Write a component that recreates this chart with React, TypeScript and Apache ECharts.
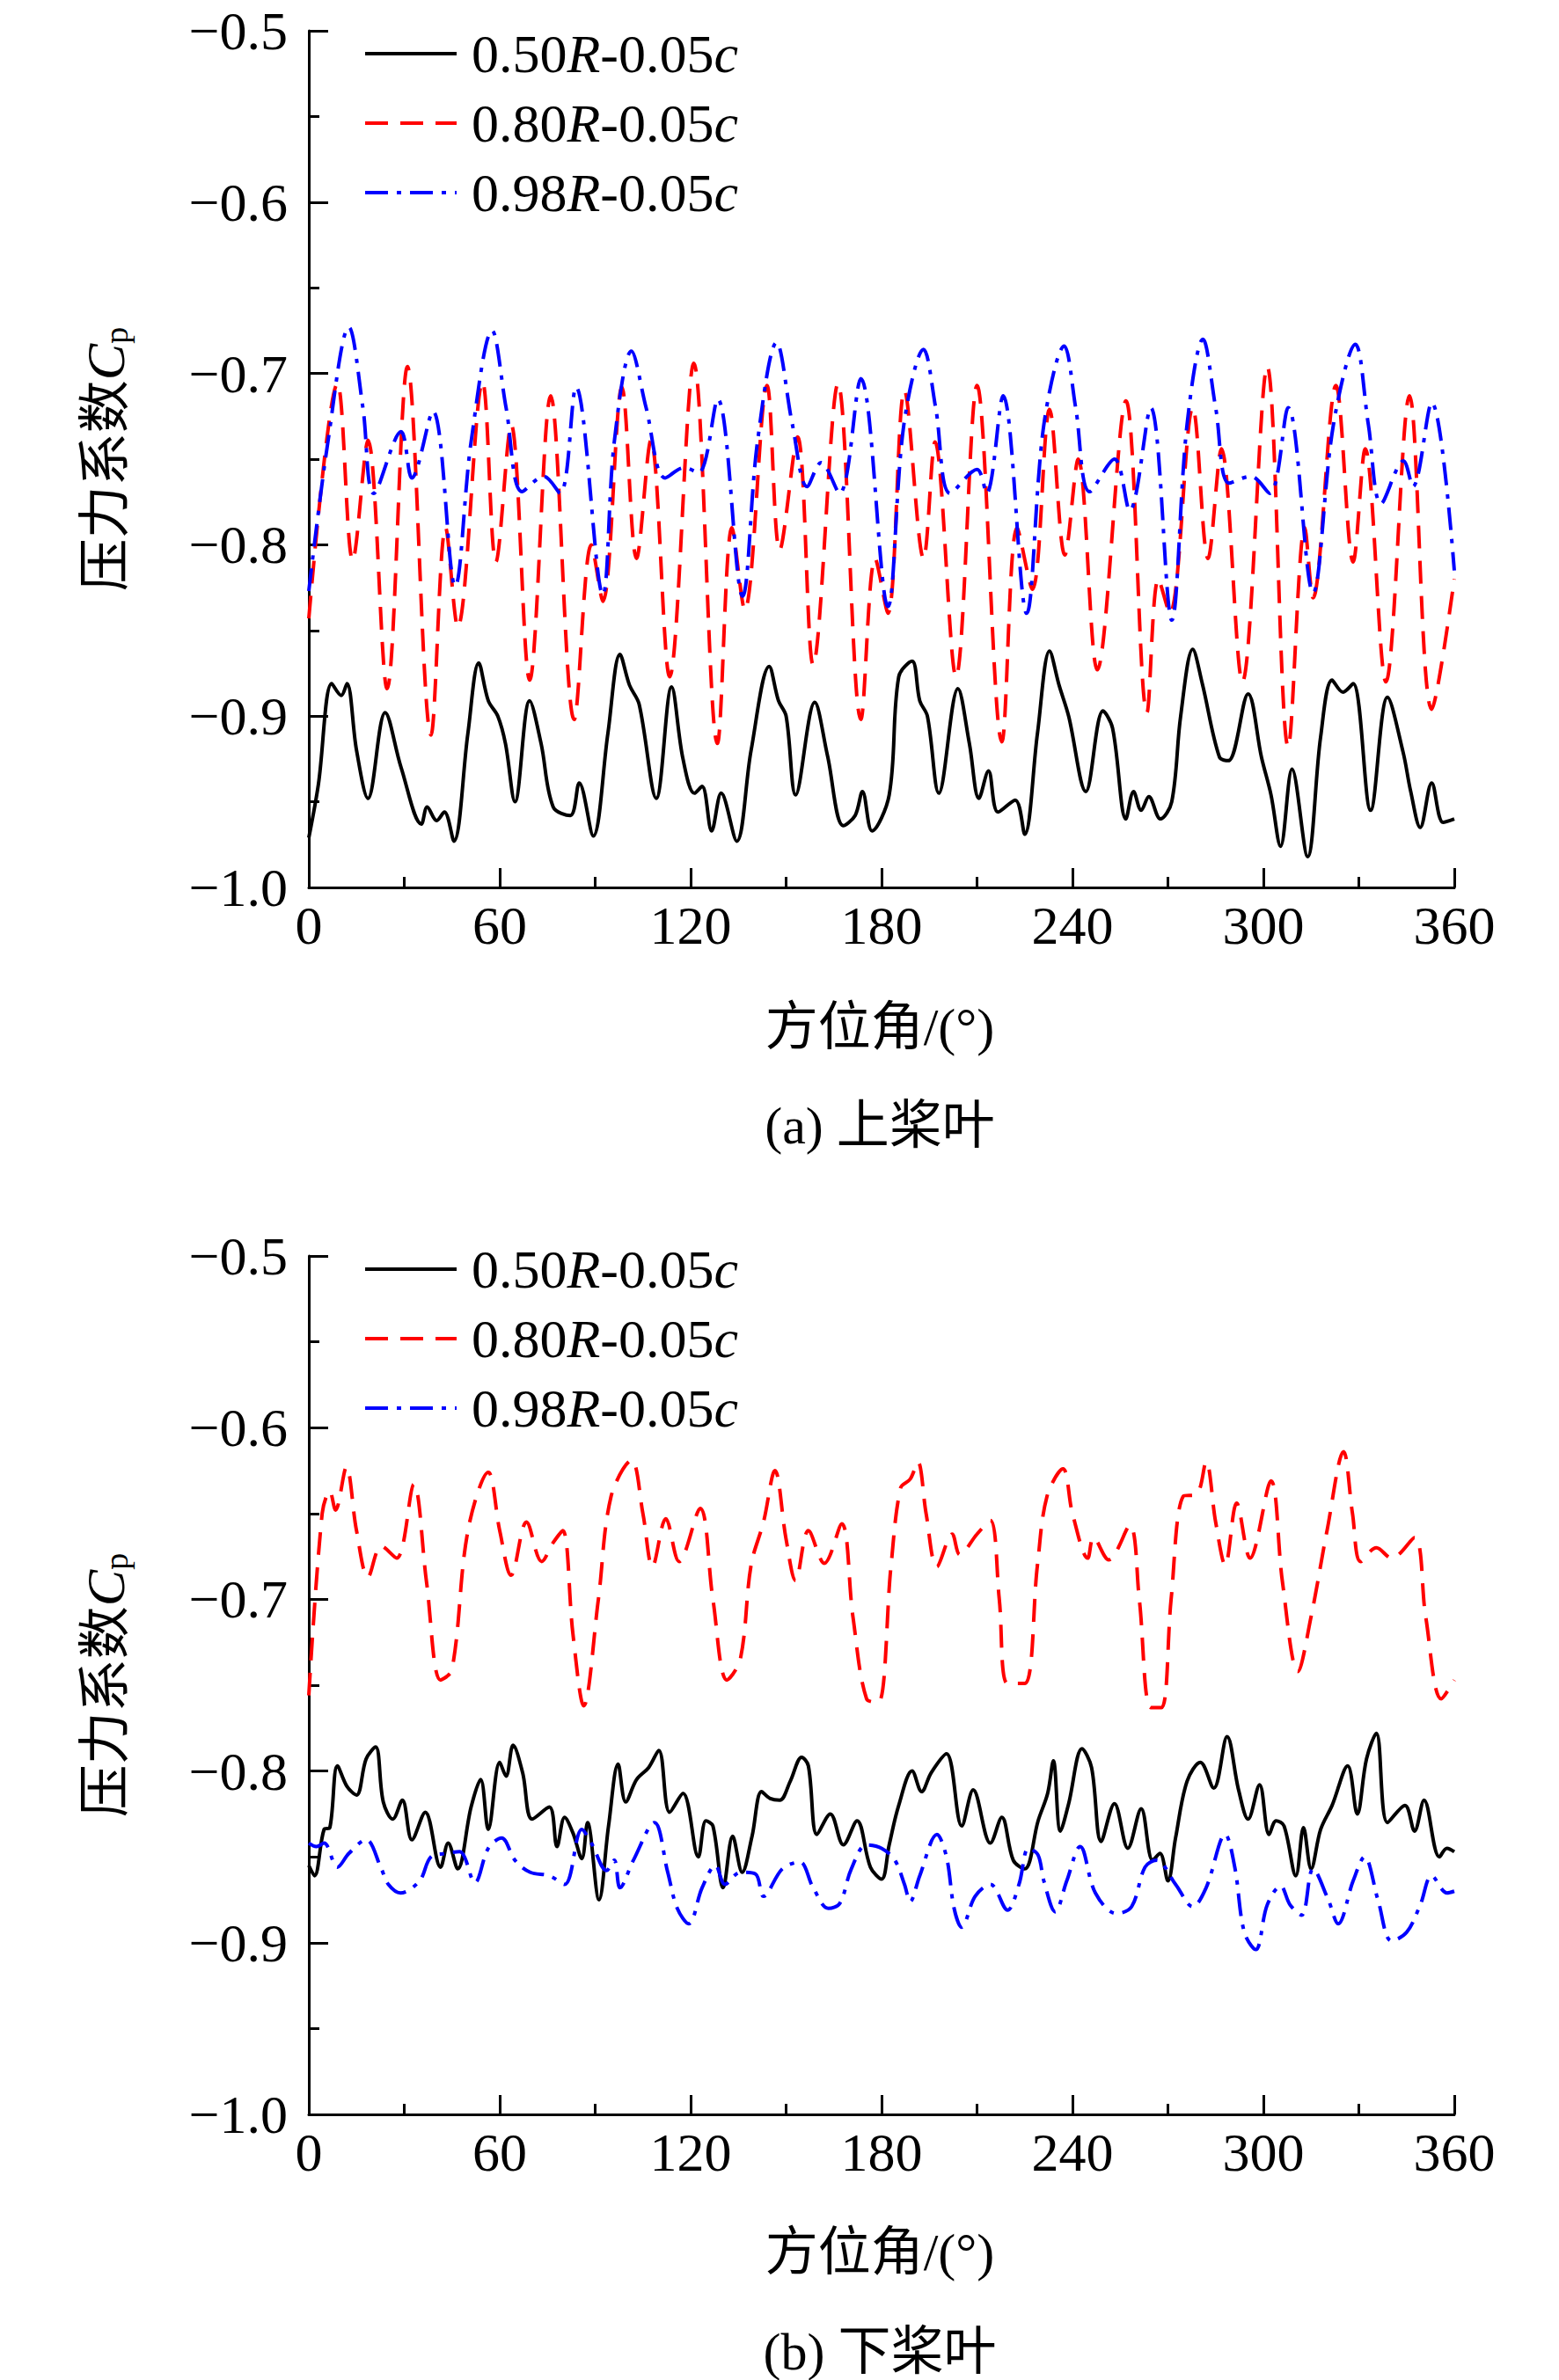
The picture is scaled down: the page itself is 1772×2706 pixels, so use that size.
import React, { useEffect, useRef } from 'react';
import * as echarts from 'echarts';

// 上桨叶 (a)
const upper050: number[][] = [
  [0, -0.971], [3, -0.94], [7.2, -0.881], [10.2, -0.888], [12, -0.881], [15, -0.92], [18.6, -0.948], [24, -0.898],
  [29, -0.93], [35.4, -0.963], [37.2, -0.953], [40.2, -0.961], [42.6, -0.956], [45.6, -0.973], [50, -0.91], [53.4, -0.869],
  [56.4, -0.891], [59.4, -0.9], [61.8, -0.916], [64.8, -0.95], [69.4, -0.891], [73, -0.916], [76.8, -0.953],
  [82.2, -0.958], [85, -0.939], [89.4, -0.97], [94, -0.91], [97.8, -0.864], [100.8, -0.882], [103.8, -0.893],
  [109.2, -0.948], [114, -0.883], [117.6, -0.925], [121.2, -0.945], [123.6, -0.941], [126.6, -0.967], [129.6, -0.945],
  [134.5, -0.973], [139, -0.92], [144.7, -0.871], [147.6, -0.891], [150, -0.9], [153, -0.946], [159, -0.892],
  [163, -0.923], [168, -0.964], [171.7, -0.958], [174, -0.944], [177, -0.967], [182.4, -0.946], [185.4, -0.877],
  [189.6, -0.868], [192, -0.891], [194.4, -0.9], [198, -0.945], [204, -0.884], [207.6, -0.916], [210.6, -0.948],
  [213.6, -0.932], [216.6, -0.956], [222, -0.949], [225, -0.969], [229, -0.91], [232.8, -0.862], [235.8, -0.882],
  [238.8, -0.9], [244.2, -0.944], [249.6, -0.897], [252.6, -0.907], [256.8, -0.96], [259.2, -0.944], [261.6, -0.955],
  [264, -0.947], [267.6, -0.96], [271.2, -0.95], [274, -0.9], [277.8, -0.861], [280.8, -0.881], [286.2, -0.924],
  [289, -0.926], [295.2, -0.887], [299.4, -0.924], [302.4, -0.946], [305.4, -0.976], [309, -0.931], [313.9, -0.982],
  [318, -0.912], [321.6, -0.879], [325, -0.886], [328.2, -0.881], [333.7, -0.955], [339, -0.889], [343.9, -0.921],
  [346.3, -0.944], [349.3, -0.965], [352.9, -0.939], [356.5, -0.962], [360, -0.96],
];
const upper080: number[][] = [
  [0, -0.843], [9, -0.706], [13.8, -0.809], [18.6, -0.739], [24.6, -0.884], [31, -0.696], [38.4, -0.911], [43, -0.79],
  [46.8, -0.848], [54.6, -0.705], [58.8, -0.81], [63.6, -0.73], [69.4, -0.879], [76, -0.713], [83.4, -0.902],
  [88.8, -0.8], [92.4, -0.833], [98.4, -0.708], [103, -0.808], [107.5, -0.739], [113.4, -0.877], [121, -0.694],
  [128.4, -0.916], [133, -0.79], [137, -0.838], [144, -0.707], [148, -0.803], [153.6, -0.737], [158.5, -0.87],
  [166.3, -0.706], [173.5, -0.902], [178, -0.808], [182, -0.84], [187.2, -0.71], [193.2, -0.808], [196.8, -0.74],
  [203.4, -0.877], [210, -0.707], [217.8, -0.915], [222.6, -0.79], [227.4, -0.826], [232.8, -0.721], [237.6, -0.806],
  [241.8, -0.75], [247.8, -0.873], [256.8, -0.716], [263.4, -0.898], [267, -0.82], [270.6, -0.84], [277.8, -0.72],
  [282.6, -0.808], [286.8, -0.744], [293.4, -0.88], [301.2, -0.696], [307.8, -0.918], [313, -0.79], [315.6, -0.831],
  [322.8, -0.707], [328.2, -0.81], [332, -0.744], [338.5, -0.88], [345.9, -0.713], [352.9, -0.896], [360, -0.82],
];
const upper098: number[][] = [
  [0, -0.827], [6, -0.74], [12.6, -0.673], [17, -0.72], [20.4, -0.77], [29, -0.734], [32.4, -0.761], [39, -0.722],
  [46, -0.824], [51, -0.74], [57.6, -0.675], [62, -0.72], [67, -0.769], [73.8, -0.76], [79, -0.77], [84, -0.708],
  [92.4, -0.829], [96, -0.74], [101.4, -0.687], [106, -0.72], [112, -0.761], [118, -0.755], [122.5, -0.758],
  [128.5, -0.715], [136.3, -0.83], [141, -0.74], [147, -0.682], [152, -0.73], [156.6, -0.766], [161, -0.752],
  [166.8, -0.77], [173.5, -0.703], [182, -0.836], [187, -0.73], [193.2, -0.686], [197, -0.72], [201.6, -0.77],
  [210, -0.756], [213, -0.77], [218.2, -0.713], [225.6, -0.84], [231, -0.73], [237.4, -0.684], [241, -0.72],
  [245.4, -0.769], [253.2, -0.75], [258, -0.78], [264.6, -0.72], [271.2, -0.844], [276, -0.73], [281, -0.68],
  [285, -0.72], [289.2, -0.764], [296, -0.76], [302, -0.77], [307.8, -0.72], [315.6, -0.828], [322, -0.73],
  [328.9, -0.683], [333, -0.73], [337, -0.776], [344, -0.751], [347, -0.766], [352.9, -0.717], [360, -0.815],
];

// 下桨叶 (b)
const lower050: number[][] = [
  [0, -0.855], [1.8, -0.861], [4.8, -0.834], [6.6, -0.833], [9, -0.797], [12, -0.809], [15, -0.814], [18, -0.793],
  [21, -0.786], [23.4, -0.818], [26.4, -0.828], [29.4, -0.817], [32.4, -0.84], [36.6, -0.824], [41.4, -0.856],
  [43.8, -0.842], [46.8, -0.857], [51, -0.821], [54, -0.805], [56.4, -0.834], [60, -0.795], [62, -0.803], [64.2, -0.785],
  [67.2, -0.801], [70.2, -0.828], [75.6, -0.821], [78, -0.844], [80.4, -0.827], [83, -0.836], [85.8, -0.851],
  [87.6, -0.83], [91.2, -0.875], [94.2, -0.832], [97.2, -0.796], [99.6, -0.818], [103, -0.805], [106.8, -0.798],
  [110, -0.788], [113.4, -0.824], [117.6, -0.813], [122.4, -0.85], [124.8, -0.829], [127, -0.832], [130.2, -0.868],
  [133.2, -0.838], [136.2, -0.859], [139.3, -0.838], [142.3, -0.812], [145, -0.816], [148, -0.817], [151.3, -0.806],
  [154.9, -0.792], [157, -0.797], [159.7, -0.837], [163.9, -0.825], [168, -0.843], [172.3, -0.829], [176.5, -0.856],
  [180, -0.863], [182.4, -0.843], [185.4, -0.82], [189.6, -0.8], [192.6, -0.812], [195.6, -0.801], [200.4, -0.79],
  [205.2, -0.832], [208.8, -0.811], [214.2, -0.842], [217.8, -0.827], [221.4, -0.852], [225, -0.857], [229.2, -0.829],
  [232.2, -0.813], [234, -0.794], [236.2, -0.835], [238.8, -0.819], [243, -0.787], [246, -0.798], [249, -0.841],
  [253.2, -0.819], [257.4, -0.845], [261.6, -0.822], [265.2, -0.852], [267.5, -0.848], [270, -0.864], [272.4, -0.839],
  [276, -0.806], [280.2, -0.795], [284.4, -0.81], [288.6, -0.78], [292.2, -0.811], [295.2, -0.828], [298.8, -0.808],
  [301.8, -0.837], [304, -0.829], [306.5, -0.832], [310.2, -0.861], [312.6, -0.833], [315, -0.857], [318, -0.834],
  [321.6, -0.82], [326.5, -0.797], [329.5, -0.825], [332.4, -0.793], [335.5, -0.778], [339, -0.83], [344.5, -0.82],
  [347.5, -0.835], [350.5, -0.817], [355.3, -0.85], [357.7, -0.845], [360, -0.847],
];
const lower080: number[][] = [
  [0, -0.756], [4.2, -0.65], [6.6, -0.637], [8.4, -0.648], [11.8, -0.623], [15, -0.66], [18.6, -0.687], [22.8, -0.669],
  [27.6, -0.676], [33, -0.633], [37, -0.69], [41.4, -0.747], [45, -0.741], [50, -0.66], [56.4, -0.626], [60, -0.66],
  [63.6, -0.686], [68.4, -0.655], [73.2, -0.678], [76.8, -0.667], [79.8, -0.66], [83, -0.72], [86.4, -0.762],
  [91, -0.7], [95, -0.64], [101.4, -0.619], [105, -0.65], [108, -0.681], [112.2, -0.653], [116.4, -0.678], [123, -0.647],
  [127, -0.7], [131.4, -0.747], [135.6, -0.735], [139, -0.68], [142.9, -0.655], [146.5, -0.625], [150, -0.665],
  [153, -0.689], [157, -0.66], [162, -0.679], [167.5, -0.656], [171, -0.71], [175.3, -0.758], [179, -0.76],
  [183, -0.68], [186, -0.635], [189, -0.63], [191.4, -0.62], [194, -0.65], [197.4, -0.681], [202.2, -0.662],
  [204.6, -0.674], [210, -0.662], [214.2, -0.654], [217, -0.7], [219.6, -0.749], [225, -0.749], [229, -0.68],
  [232, -0.64], [237, -0.624], [240, -0.65], [244.8, -0.676], [246.6, -0.664], [251.4, -0.677], [258, -0.657],
  [261, -0.7], [264.6, -0.763], [268, -0.763], [271, -0.7], [274.8, -0.64], [279, -0.639], [282, -0.62], [285, -0.655],
  [288, -0.68], [291.6, -0.644], [295.8, -0.676], [302.4, -0.631], [306, -0.69], [310.8, -0.742], [315, -0.71],
  [320, -0.66], [325.2, -0.614], [328, -0.65], [330.6, -0.678], [335.5, -0.67], [340.3, -0.676], [347.5, -0.664],
  [351, -0.71], [355.9, -0.758], [360, -0.747],
];
const lower098: number[][] = [
  [0, -0.842], [2.4, -0.844], [4.8, -0.842], [9, -0.856], [12.6, -0.848], [18, -0.84], [22.8, -0.857], [25, -0.866],
  [28.8, -0.871], [34.8, -0.864], [38.4, -0.85], [43.2, -0.848], [47.4, -0.847], [52.2, -0.865], [56.4, -0.845],
  [60.6, -0.839], [64.8, -0.852], [69.6, -0.859], [75.6, -0.861], [80.4, -0.866], [85.8, -0.834], [88.8, -0.842],
  [93.6, -0.858], [96, -0.852], [97.8, -0.868], [102, -0.852], [108.6, -0.83], [112.8, -0.859], [115.8, -0.88],
  [119.4, -0.889], [123.6, -0.868], [127.8, -0.855], [130.8, -0.866], [135.6, -0.859], [140.4, -0.86], [142.9, -0.873],
  [148.8, -0.857], [154.3, -0.853], [158.5, -0.868], [163.3, -0.88], [166.9, -0.877], [170.5, -0.857], [175.3, -0.843],
  [180, -0.845], [184.2, -0.852], [187.2, -0.866], [189, -0.876], [192, -0.861], [197.4, -0.837], [200.4, -0.85],
  [202.8, -0.88], [205.2, -0.891], [209.4, -0.873], [214.2, -0.866], [219.6, -0.881], [223.2, -0.866], [226.2, -0.845],
  [229.2, -0.849], [231, -0.864], [234.6, -0.882], [238.2, -0.864], [242.4, -0.844], [247.2, -0.871], [253.8, -0.883],
  [258.6, -0.879], [262.8, -0.856], [266.4, -0.852], [272.4, -0.866], [277.8, -0.879], [282, -0.868], [288, -0.837],
  [291, -0.856], [294, -0.894], [297.6, -0.904], [301.2, -0.878], [305.4, -0.867], [308.4, -0.878], [312, -0.884],
  [315.6, -0.857], [320.4, -0.875], [323.5, -0.889], [328.2, -0.864], [331.8, -0.85], [336, -0.875], [340.3, -0.899],
  [345, -0.894], [349.3, -0.878], [352.9, -0.861], [357.7, -0.871], [360, -0.87],
];

const seriesNames = ['0.50R-0.05c', '0.80R-0.05c', '0.98R-0.05c'];
const xTicks = [0, 60, 120, 180, 240, 300, 360];
const yTicks = [-1.0, -0.9, -0.8, -0.7, -0.6, -0.5];
const xTitle = '方位角/(°)';
const captions = ['(a) 上桨叶', '(b) 下桨叶'];

const FONT = '"Liberation Serif", "Times New Roman", serif';
const CJK = '"Liberation Serif", "Noto Sans CJK SC", serif';

const App: React.FC = () => {
  const chartRef = useRef<HTMLDivElement | null>(null);

  useEffect(() => {
    document.body.style.margin = '0';
    if (!chartRef.current) return;
    const chart = echarts.init(chartRef.current, undefined, { renderer: 'svg' });

    const grids = [
      { left: 351, top: 35, width: 1302, height: 974 },
      { left: 351, top: 1428, width: 1302, height: 976 },
    ];
    const xAxis = grids.map((_, i) => ({
      type: 'value', gridIndex: i, min: xTicks[0], max: xTicks[xTicks.length - 1], interval: 60,
      axisLine: { lineStyle: { color: '#000', width: 3 } },
      axisTick: { inside: true, length: 22, lineStyle: { width: 3, color: '#000' } },
      minorTick: { show: true, splitNumber: 2, length: 12, lineStyle: { width: 3, color: '#000' } },
      splitLine: { show: false },
      axisLabel: { fontFamily: FONT, fontSize: 62, color: '#000', margin: 12 },
    }));
    const yAxis = grids.map((_, i) => ({
      type: 'value', gridIndex: i, min: yTicks[0], max: yTicks[yTicks.length - 1], interval: 0.1,
      axisLine: { show: true, lineStyle: { color: '#000', width: 3 } },
      axisTick: { show: true, inside: true, length: 22, lineStyle: { width: 3, color: '#000' } },
      minorTick: { show: true, splitNumber: 2, length: 12, lineStyle: { width: 3, color: '#000' } },
      splitLine: { show: false },
      axisLabel: {
        fontFamily: FONT, fontSize: 62, color: '#000', margin: 24,
        formatter: (v: number) => '\u2212' + Math.abs(v).toFixed(1),
      },
      name: '{a|压力系数}{c|C}{p|p}',
      nameLocation: 'middle', nameRotate: 90, nameGap: 200,
      nameTextStyle: {
        rich: {
          a: { fontFamily: CJK, fontSize: 60, color: '#000' },
          c: { fontFamily: FONT, fontSize: 62, fontStyle: 'italic', color: '#000' },
          p: { fontFamily: FONT, fontSize: 38, color: '#000', padding: [24, 0, 0, 0] },
        },
      },
    }));

    const styles = [
      { color: '#000000', type: 'solid' as any, dash: null as any },
      { color: '#ff0000', type: [26, 14], dash: [26, 14] },
      { color: '#0000ff', type: [26, 10, 5, 10], dash: [26, 10, 5, 10] },
    ];
    const sets = [[upper050, upper080, upper098], [lower050, lower080, lower098]];
    const series: any[] = [];
    sets.forEach((group, gi) => {
      group.forEach((d, si) => {
        series.push({
          name: seriesNames[si], type: 'line', xAxisIndex: gi, yAxisIndex: gi,
          data: d, showSymbol: false, smooth: 0.35,
          lineStyle: { color: styles[si].color, width: 4, type: styles[si].type },
          itemStyle: { color: styles[si].color },
        });
      });
    });

    // legend drawn by hand (one per panel)
    const legendRich = {
      n: { fontFamily: FONT, fontSize: 62, fill: '#000' },
      i: { fontFamily: FONT, fontSize: 62, fontStyle: 'italic', fill: '#000' },
    };
    const legendLabel = (name: string) => {
      const m = name.match(/^([\d.]+)R-([\d.]+)c$/);
      return m ? `{n|${m[1]}}{i|R}{n|-${m[2]}}{i|c}` : name;
    };
    const graphic: any[] = [];
    [61, 1443].forEach((top) => {
      seriesNames.forEach((n, si) => {
        const y = top + si * 79;
        graphic.push({
          type: 'line', shape: { x1: 415, y1: y, x2: 519, y2: y },
          style: { stroke: styles[si].color, lineWidth: 4, lineDash: styles[si].dash },
        });
        graphic.push({
          type: 'text', x: 536, y, style: { text: legendLabel(n), rich: legendRich, verticalAlign: 'middle', fill: '#000' },
        });
      });
    });
    [
      { y: 1168, text: xTitle }, { y: 1280, text: captions[0] },
      { y: 2561, text: xTitle }, { y: 2674, text: captions[1] },
    ].forEach((t) => {
      graphic.push({
        type: 'text', x: 1000, y: t.y,
        style: { text: t.text, font: `60px ${CJK}`, fill: '#000', align: 'center', verticalAlign: 'middle' },
      });
    });

    chart.setOption({
      animation: false,
      backgroundColor: '#fff',
      grid: grids,
      xAxis, yAxis, series,
      graphic,
    });

    return () => chart.dispose();
  }, []);

  return <div ref={chartRef} style={{ width: 1772, height: 2706 }} />;
};

export default App;
